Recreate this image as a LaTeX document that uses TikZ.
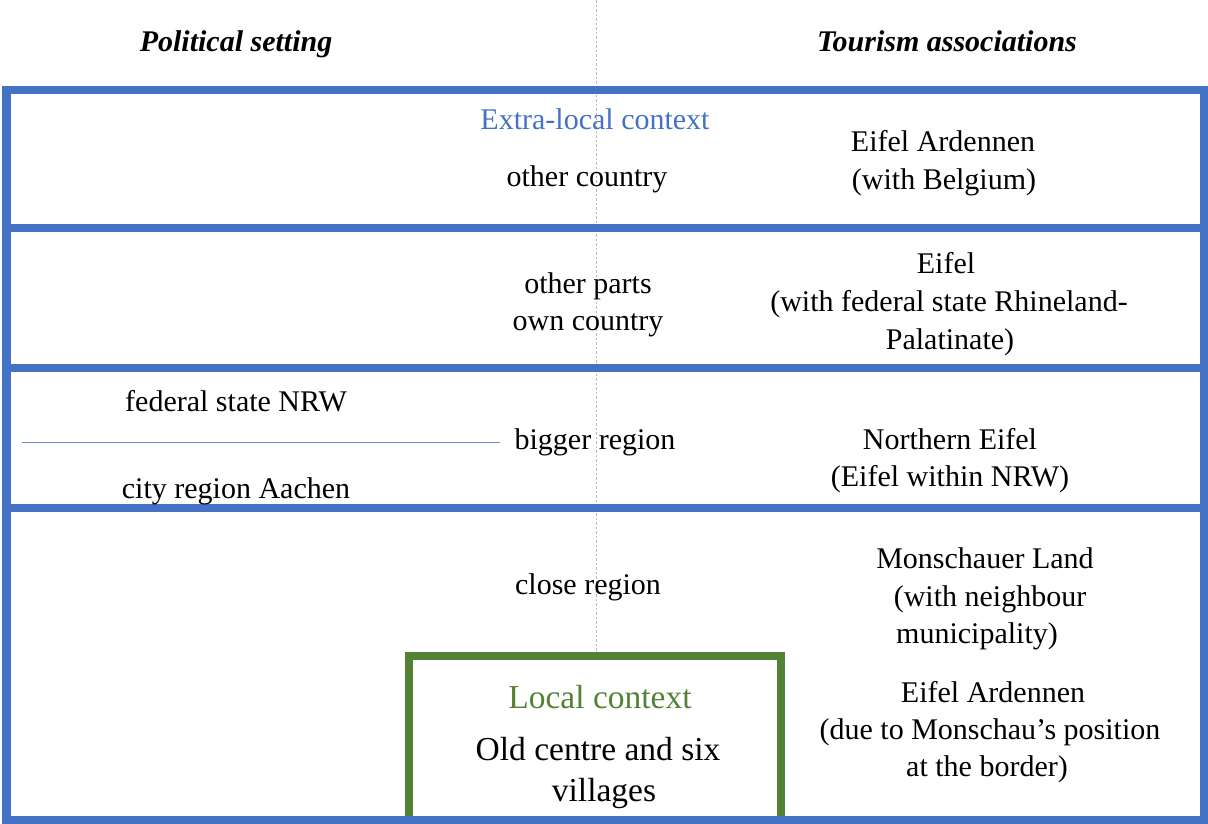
\documentclass[tikz,border=0pt]{standalone}
\usepackage{fontspec}
\setmainfont{Liberation Serif}
\definecolor{ofblue}{HTML}{4472C4}
\definecolor{ofgreen}{HTML}{548235}
\begin{document}
\begin{tikzpicture}[x=1pt,y=-1pt,
  txt/.style={anchor=base,inner sep=0pt,font=\fontsize{30pt}{37pt}\selectfont},
  bigtxt/.style={anchor=base,inner sep=0pt,font=\fontsize{33.5pt}{40pt}\selectfont},
  head/.style={txt,font=\fontsize{30pt}{37pt}\selectfont\bfseries\itshape},
  band/.style={draw=ofblue,line width=8.5pt},
  localbox/.style={draw=ofgreen,line width=8.5pt}]
\useasboundingbox (0,0) rectangle (1208,823);
\fill[white] (0,0) rectangle (1208,823);
% dashed centre line
\coordinate (dtop) at (596,0);
\coordinate (dbot) at (596,652);
\draw[gray!55,line width=0.8pt,dash pattern=on 2.5pt off 2pt] (dtop) -- (dbot);
% green local box
\draw[localbox] (409,656) rectangle (781,850);
% blue bands
\draw[band] (6.5,90) rectangle (1204.5,228);
\draw[band] (6.5,228) rectangle (1204.5,368);
\draw[band] (6.5,368) rectangle (1204.5,508);
\draw[band] (6.5,508) rectangle (1204.5,820);
% thin separator
\coordinate (s1) at (22,442);
\coordinate (s2) at (500,442);
\draw[ofblue!80,line width=0.9pt] (s1) -- (s2);
% headers
\node[head] (h1) at (236,51) {Political setting};
\node[head] (h2) at (947,51) {Tourism associations};
% band 1
\node[txt,text=ofblue] (ext) at (595,129) {Extra-local context};
\node[txt] (oc) at (587,186) {other country};
\node[txt] (ea1) at (943,151) {Eifel Ardennen};
\node[txt] (ea2) at (944,189) {(with Belgium)};
% band 2
\node[txt] (op1) at (588,293) {other parts};
\node[txt] (op2) at (588,330) {own country};
\node[txt] (e1) at (946,273) {Eifel};
\node[txt] (e2) at (949,311) {(with federal state Rhineland-};
\node[txt] (e3) at (950,349) {Palatinate)};
% band 3
\node[txt] (fs) at (236,411) {federal state NRW};
\node[txt] (cr) at (236,498) {city region Aachen};
\node[txt] (br) at (595,449) {bigger region};
\node[txt] (ne1) at (950,449) {Northern Eifel};
\node[txt] (ne2) at (950,486) {(Eifel within NRW)};
% band 4
\node[txt] (cl) at (588,594) {close region};
\node[txt] (ml1) at (985,568) {Monschauer Land};
\node[txt] (ml2) at (990,606) {(with neighbour};
\node[txt] (ml3) at (977,643) {municipality)};
\node[txt] (ed1) at (993,702) {Eifel Ardennen};
\node[txt] (ed2) at (990,739) {(due to Monschau’s position};
\node[txt] (ed3) at (987,776) {at the border)};
\node[bigtxt,text=ofgreen] (lc) at (600,708) {Local context};
\node[bigtxt] (oc1) at (598,760) {Old centre and six};
\node[bigtxt] (oc2) at (604,801) {villages};
\end{tikzpicture}
\end{document}
